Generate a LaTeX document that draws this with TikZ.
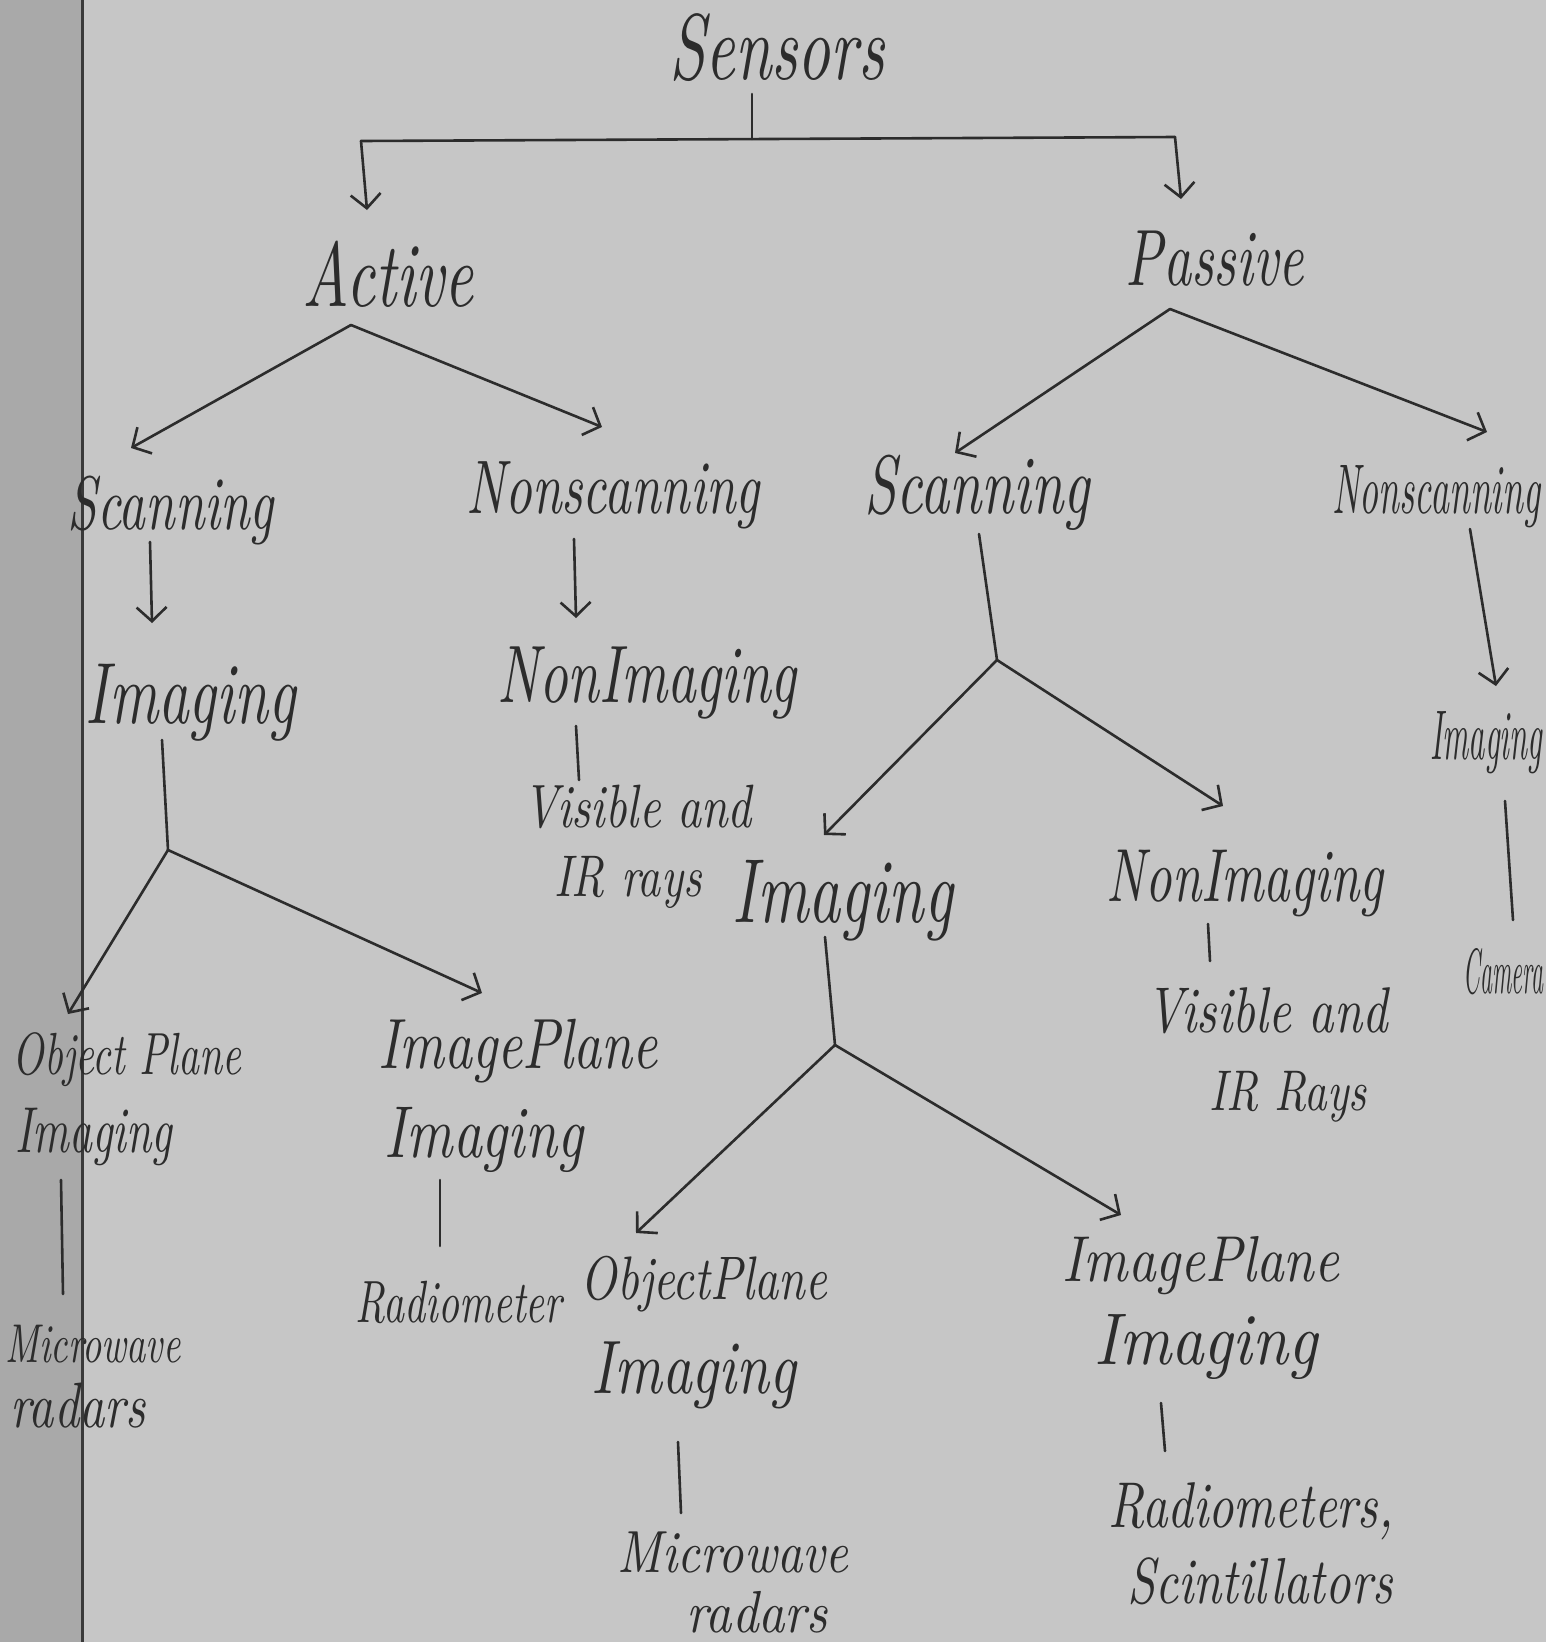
\documentclass[tikz,border=0pt]{standalone}
\usepackage{graphicx}
\usetikzlibrary{arrows.meta}
\definecolor{paper}{HTML}{C6C6C6}
\definecolor{paperdark}{HTML}{A9A9A9}
\definecolor{ink}{HTML}{2C2C2C}
\definecolor{margin}{HTML}{3A3A3A}
% width-fitted, vertically stretched "handwriting"
\newcommand{\hw}[2]{\resizebox{#1pt}{!}{\scalebox{1}[1.45]{\itshape #2}}}
\newcommand{\hws}[3]{\resizebox{#1pt}{!}{\scalebox{1}[#2]{\itshape #3}}}
% squeezed text (full word kept inside the page edge)
\newcommand{\hwsq}[3]{\resizebox{#1pt}{#2pt}{\itshape #3}}
\tikzset{
  lbl/.style={anchor=base, inner sep=0pt, text=ink},
  line/.style={draw=ink, line width=2.6pt, line cap=round, line join=round},
  arr/.style={line, -{Straight Barb[length=14pt,width=30pt]}},
}
\begin{document}
\begin{tikzpicture}[x=1pt,y=-1pt]
\useasboundingbox (0,0) rectangle (1546,1642);
\fill[paper] (0,0) rectangle (1546,1642);
\fill[paperdark] (0,0) rectangle (82,1642);
\draw[margin, line width=3pt] (82,0) -- (82,1642);

% labels
\node[lbl] (sensors) at (777,79) {\hw{215}{Sensors}};
\node[lbl] (active) at (388,306) {\hw{171}{Active}};
\node[lbl] (passive) at (1215,285) {\hw{178}{Passive}};
\node[lbl] (scanA) at (171,529) {\hw{206}{Scanning}};
\node[lbl] (nscanA) at (613,513) {\hw{293}{Nonscanning}};
\node[lbl] (scanP) at (977,513) {\hw{225}{Scanning}};
\node[lbl, anchor=base west] (nscanP) at (1332,513) {\hwsq{208}{48}{Nonscanning}};
\node[lbl] (imgA) at (191,723) {\hw{210}{Imaging}};
\node[lbl] (nimgA) at (647,702) {\hw{299}{NonImaging}};
\node[lbl] (visA) at (638,827) {\hws{228}{1.3}{Visible and}};
\node[lbl] (irA) at (628,896) {\hws{147}{1.3}{IR rays}};
\node[lbl] (imgP) at (843,922) {\hw{220}{Imaging}};
\node[lbl] (nimgP) at (1245,901) {\hw{276}{NonImaging}};
\node[lbl] (visP) at (1267,1032) {\hws{241}{1.3}{Visible and}};
\node[lbl] (irP) at (1288,1110) {\hws{157}{1.3}{IR Rays}};
\node[lbl] (opA) at (127,1074) {\hw{228}{Object Plane}};
\node[lbl] (opAi) at (94,1152) {\hw{157}{Imaging}};
\node[lbl] (ipA) at (518,1068) {\hws{279}{1.3}{ImagePlane}};
\node[lbl] (ipAi) at (484,1157) {\hws{198}{1.3}{Imaging}};
\node[lbl] (mwA) at (93,1362) {\hw{175}{Microwave}};
\node[lbl] (rdA) at (78,1427) {\hws{135}{1.3}{radars}};
\node[lbl] (radA) at (459,1322) {\hw{206}{Radiometer}};
\node[lbl] (opP) at (704,1299) {\hws{246}{1.3}{ObjectPlane}};
\node[lbl] (opPi) at (694,1393) {\hws{204}{1.3}{Imaging}};
\node[lbl] (mwP) at (733,1572) {\hws{230}{1.2}{Microwave}};
\node[lbl] (rdP) at (757,1632) {\hws{141}{1.15}{radars}};
\node[lbl] (ipP) at (1201,1281) {\hws{276}{1.2}{ImagePlane}};
\node[lbl] (ipPi) at (1206,1364) {\hws{223}{1.15}{Imaging}};
\node[lbl] (radP) at (1251,1527) {\hws{285}{1.3}{Radiometers,}};
\node[lbl] (scP) at (1260,1603) {\hws{265}{1.3}{Scintillators}};
\node[lbl, anchor=base west] (imgPn) at (1430,759) {\hwsq{112}{48}{Imaging}};
\node[lbl, anchor=base west] (camP) at (1463,993) {\hwsq{80}{45}{Camera}};

% connector points
\coordinate (s0) at (752,94);
\coordinate (sj) at (752,139);
\coordinate (bl) at (361,141);
\coordinate (br) at (1175,137);
\coordinate (aT) at (367,210);
\coordinate (pT) at (1181,199);
\coordinate (aJ) at (351,325);
\coordinate (aL) at (131,448);
\coordinate (aR) at (602,427);
\coordinate (pJ) at (1170,309);
\coordinate (pL) at (955,453);
\coordinate (pR) at (1487,432);
\coordinate (sA0) at (150,542);
\coordinate (sA1) at (152,623);
\coordinate (nA0) at (574,539);
\coordinate (nA1) at (576,618);
\coordinate (niA0) at (576,726);
\coordinate (niA1) at (579,780);
\coordinate (iA0) at (162,740);
\coordinate (iAJ) at (168,850);
\coordinate (iAL) at (68,1014);
\coordinate (iAR) at (482,993);
\coordinate (oA0) at (61,1180);
\coordinate (oA1) at (63,1294);
\coordinate (pA0) at (440,1180);
\coordinate (pA1) at (440,1246);
\coordinate (sP0) at (979,534);
\coordinate (sPJ) at (997,660);
\coordinate (sPL) at (824,835);
\coordinate (sPR) at (1223,806);
\coordinate (niP0) at (1208,924);
\coordinate (niP1) at (1210,961);
\coordinate (iP0) at (825,937);
\coordinate (iPJ) at (835,1045);
\coordinate (iPL) at (636,1233);
\coordinate (iPR) at (1121,1215);
\coordinate (oP0) at (678,1442);
\coordinate (oP1) at (681,1513);
\coordinate (ipP0) at (1161,1403);
\coordinate (ipP1) at (1165,1451);
\coordinate (nP0) at (1470,529);
\coordinate (nP1) at (1496,686);
\coordinate (imP0) at (1505,801);
\coordinate (imP1) at (1513,920);

% connectors
\draw[line] (s0) -- (sj);
\draw[line] (bl) -- (br);
\draw[arr] (bl) -- (aT);
\draw[arr] (br) -- (pT);
\draw[arr] (aJ) -- (aL);
\draw[arr] (aJ) -- (aR);
\draw[arr] (pJ) -- (pL);
\draw[arr] (pJ) -- (pR);
\draw[arr] (sA0) -- (sA1);
\draw[arr] (nA0) -- (nA1);
\draw[line] (niA0) -- (niA1);
\draw[line] (iA0) -- (iAJ);
\draw[arr] (iAJ) -- (iAL);
\draw[arr] (iAJ) -- (iAR);
\draw[line] (oA0) -- (oA1);
\draw[line] (pA0) -- (pA1);
\draw[line] (sP0) -- (sPJ);
\draw[arr] (sPJ) -- (sPL);
\draw[arr] (sPJ) -- (sPR);
\draw[line] (niP0) -- (niP1);
\draw[line] (iP0) -- (iPJ);
\draw[arr] (iPJ) -- (iPL);
\draw[arr] (iPJ) -- (iPR);
\draw[line] (oP0) -- (oP1);
\draw[line] (ipP0) -- (ipP1);
\draw[arr] (nP0) -- (nP1);
\draw[line] (imP0) -- (imP1);
\end{tikzpicture}
\end{document}
